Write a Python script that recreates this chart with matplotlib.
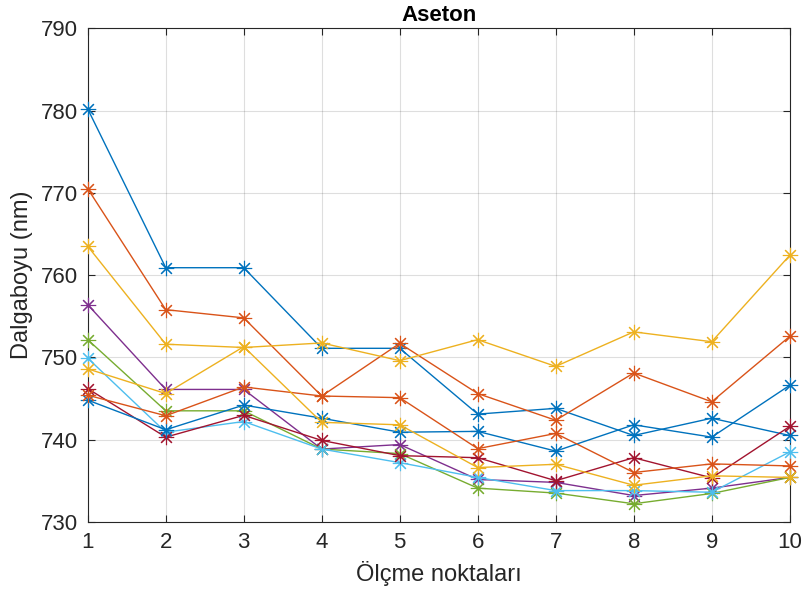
import matplotlib
matplotlib.use("Agg")
import matplotlib.pyplot as plt

# Measurement points along the x axis
points = [1, 2, 3, 4, 5, 6, 7, 8, 9, 10]

# Wavelength readings (nm) for each measurement run
run1 = [780.2, 760.9, 760.9, 751.1, 751.1, 743.1, 743.8, 740.5, 742.6, 740.5]
run2 = [770.5, 755.8, 754.8, 745.3, 751.7, 745.6, 742.35, 748.1, 744.6, 752.55]
run3 = [763.5, 751.6, 751.2, 751.75, 749.6, 752.15, 748.9, 753.1, 751.9, 762.4]
run4 = [756.4, 746.1, 746.1, 738.85, 739.4, 735.15, 734.8, 733.2, 734.1, 735.4]
run5 = [752.15, 743.5, 743.5, 738.85, 738.3, 734.1, 733.5, 732.2, 733.45, 735.4]
run6 = [749.9, 740.9, 742.2, 738.85, 737.2, 735.4, 733.8, 733.8, 733.6, 738.5]
run7 = [746.2, 740.3, 742.95, 739.9, 738.05, 737.8, 735.0, 737.8, 735.35, 741.6]
run8 = [744.8, 741.2, 744.2, 742.6, 740.9, 741.0, 738.6, 741.8, 740.3, 746.6]
run9 = [745.4, 742.9, 746.4, 745.3, 745.1, 738.9, 740.75, 736.0, 737.05, 736.8]
run10 = [748.6, 745.6, 751.3, 742.1, 741.8, 736.6, 737.0, 734.45, 735.6, 735.4]

runs = [run1, run2, run3, run4, run5, run6, run7, run8, run9, run10]

x_ticks = [1, 2, 3, 4, 5, 6, 7, 8, 9, 10]
y_ticks = [730, 740, 750, 760, 770, 780, 790]

# MATLAB default line color order
colors = ["#0072BD", "#D95319", "#EDB120", "#7E2F8E", "#77AC30", "#4DBEEE", "#A2142F"]

plt.rcParams["font.family"] = ["Liberation Sans", "DejaVu Sans"]

fig = plt.figure(figsize=(8.05, 5.91), dpi=100)
ax = fig.add_axes([0.109, 0.117, 0.872, 0.835])

# eight-spoke asterisk marker
asterisk = (8, 2, 0)
for i, run in enumerate(runs):
    ax.plot(points, run, color=colors[i % len(colors)], marker=asterisk,
            markersize=11, linewidth=1.0, markeredgewidth=0.8,
            clip_on=False, zorder=3)

ax.set_xlim(1, 10)
ax.set_ylim(730, 790)
ax.set_xticks(x_ticks)
ax.set_yticks(y_ticks)

axis_color = "#262626"
for s in ax.spines.values():
    s.set_color(axis_color)
    s.set_linewidth(0.8)
ax.tick_params(direction="in", top=True, right=True, length=5, width=0.8,
               colors=axis_color, labelsize=16, pad=7)
ax.grid(True, color="#000000", alpha=0.13, linewidth=0.8)
ax.set_axisbelow(True)

ax.set_title("Aseton", fontsize=16, fontweight="bold", color="#000000", pad=5)
ax.set_xlabel("Ölçme noktaları", fontsize=17, color=axis_color, labelpad=6)
ax.set_ylabel("Dalgaboyu (nm)", fontsize=17, color=axis_color, labelpad=6)

fig.savefig("out.png", dpi=100)
